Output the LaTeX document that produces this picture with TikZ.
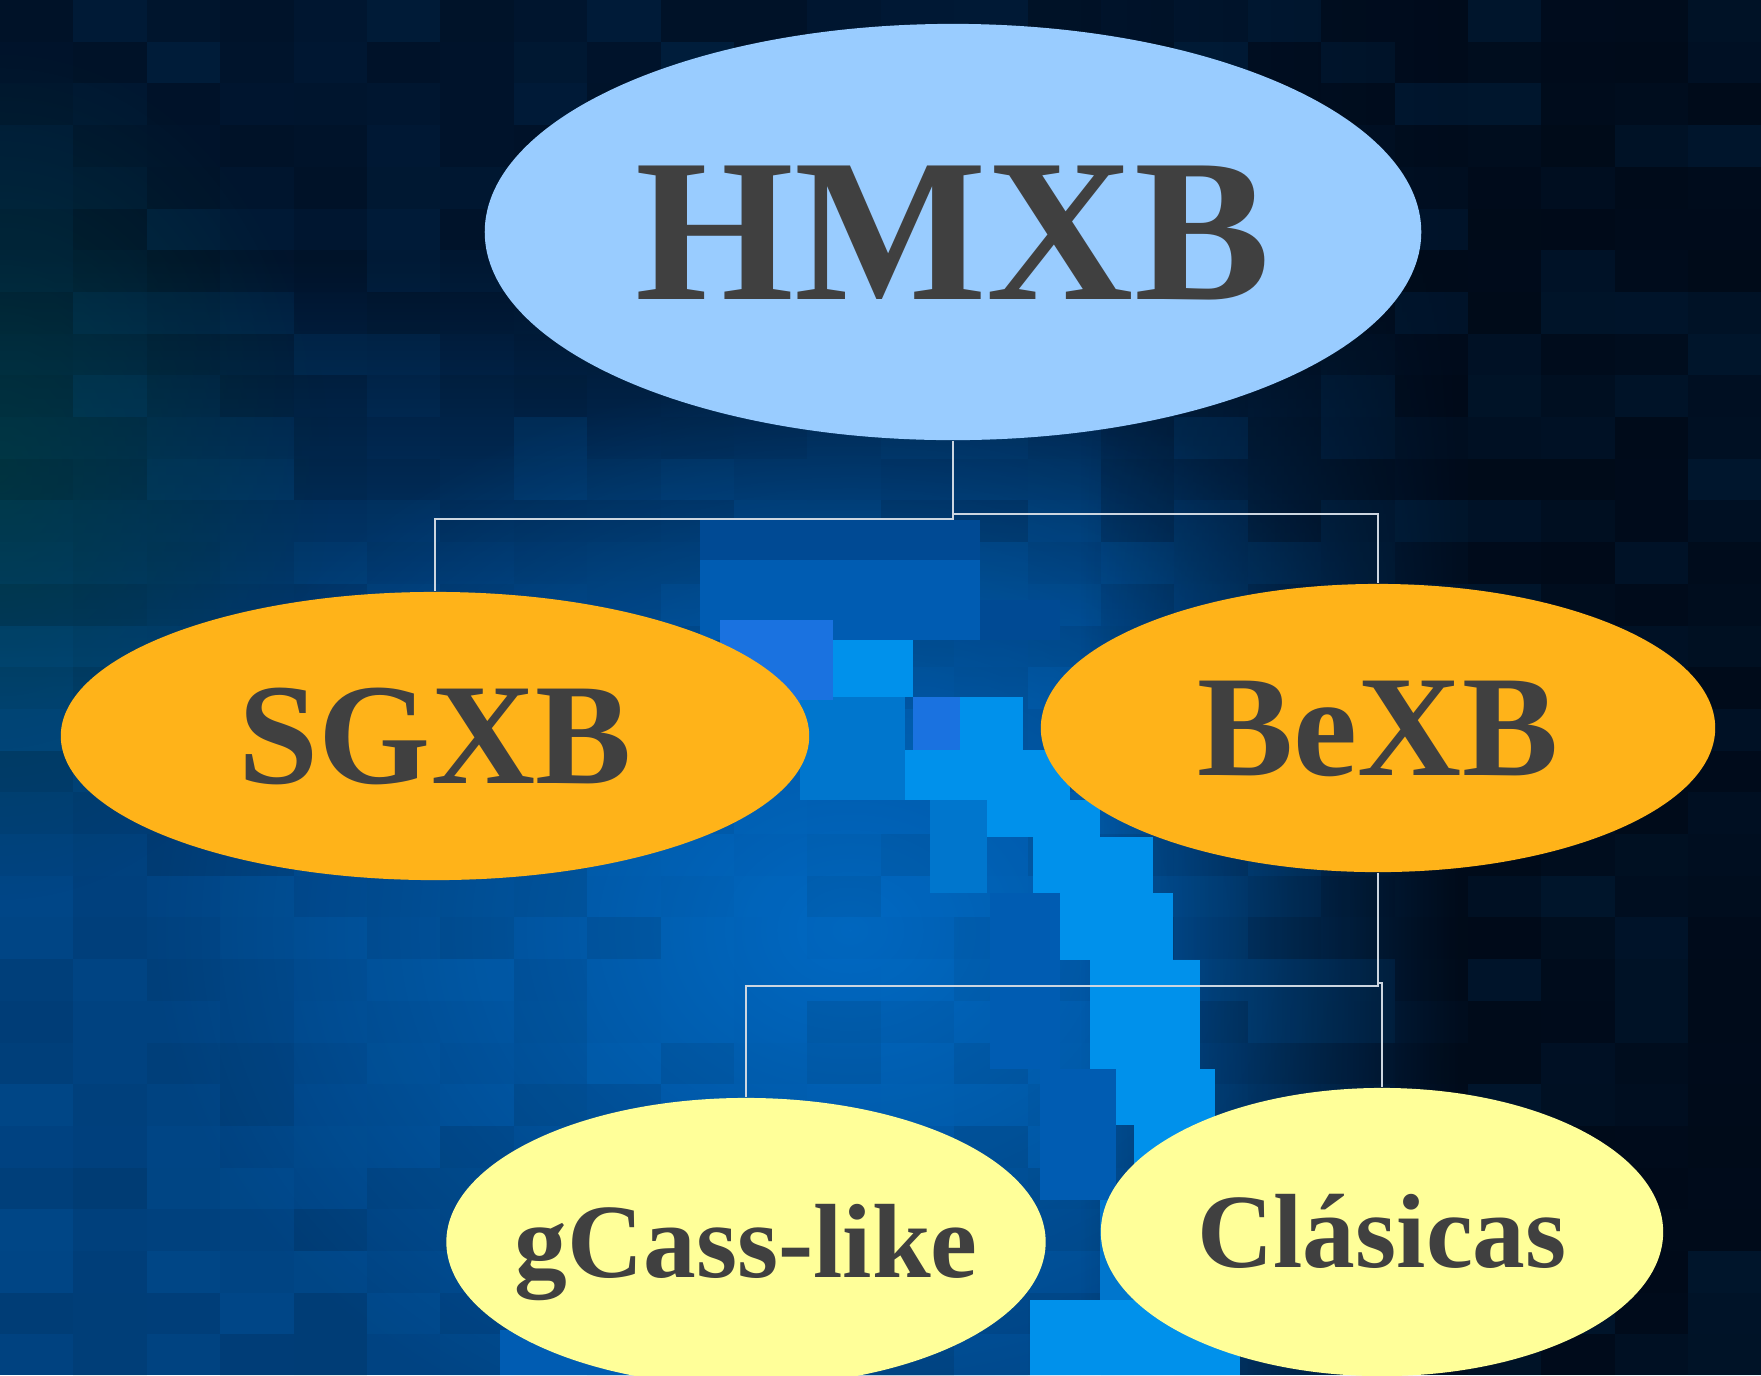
\documentclass[tikz,border=0pt]{standalone}
\usepackage{fontspec}
\setmainfont{Liberation Serif}
\usepackage{tikz}
\usetikzlibrary{shapes.geometric,positioning,fadings}

\definecolor{bgtop}{RGB}{1,20,44}
\definecolor{bglow}{RGB}{0,66,128}
\definecolor{bgdeep}{RGB}{0,12,28}
\definecolor{tealtint}{RGB}{0,62,64}
\definecolor{glowblue}{RGB}{0,105,195}
\definecolor{duskblue}{RGB}{0,74,148}
\definecolor{dimblue}{RGB}{0,92,178}
\definecolor{sideblue}{RGB}{0,118,205}
\definecolor{midblue}{RGB}{26,114,224}
\definecolor{bandblue}{RGB}{0,145,235}
\definecolor{topblue}{RGB}{153,204,255}
\definecolor{midorange}{RGB}{255,179,25}
\definecolor{lowyellow}{RGB}{255,255,153}
\definecolor{txtgray}{RGB}{64,64,64}
\definecolor{linkgray}{RGB}{205,214,224}

\tikzfading[name=fade to left, left color=transparent!100, right color=transparent!0]
\tikzfading[name=glow fade, inner color=transparent!0, outer color=transparent!100]

\tikzset{
  % ellipse size is fixed by minimum width/height only
  bubble/.style={ellipse, draw=none, inner ysep=0pt, inner xsep=-2cm, text=txtgray, text depth=0pt},
  top bubble/.style={bubble, fill=topblue, minimum width=9.36cm, minimum height=4.16cm,
    font=\fontsize{58}{60}\selectfont\bfseries, text height=38.4pt},
  mid bubble/.style={bubble, fill=midorange, minimum height=2.88cm,
    font=\fontsize{41}{44}\selectfont\bfseries, text height=27.1pt},
  low bubble/.style={bubble, fill=lowyellow, minimum height=2.88cm,
    font=\fontsize{30}{33}\selectfont\bfseries, text height=19.9pt},
  link/.style={draw=linkgray, line width=0.6pt},
}

\begin{document}
\begin{tikzpicture}[x=0.01cm,y=-0.01cm]
\useasboundingbox (0,0) rectangle (1761,1375);
% background
\fill[bglow] (0,0) rectangle (1761,1375);
\fill[bgtop] (0,0) rectangle (1761,260);
\shade[top color=bgtop,bottom color=bglow] (0,259) rectangle (1761,700);
\fill[tealtint,opacity=0.7,path fading=glow fade] (0,470) ellipse (330 and 430);
\fill[glowblue,path fading=glow fade] (850,930) ellipse (700 and 560);
\fill[bgdeep,path fading=fade to left] (1080,0) rectangle (1460,1375);
\fill[bgdeep] (1459,0) rectangle (1761,1375);
% mosaic grain
\pgfmathsetseed{7}
\foreach \i in {0,...,23}
  \foreach \j in {0,...,32}{
    \pgfmathsetmacro{\grainop}{0.1*rnd}
    \pgfmathtruncatemacro{\pick}{2*rnd}
    \ifnum\pick=0 \def\graincol{black}\else\def\graincol{sideblue}\fi
    \fill[\graincol,opacity=\grainop] (73.4*\i,41.7*\j) rectangle ++(73.4,41.7);
  }
% blocky bright streak
\foreach \ya/\yb/\xa/\xb in {520/560/700/980,600/640/980/1060}
  \fill[duskblue] (\xa,\ya) rectangle (\xb,\yb);
\foreach \ya/\yb/\xa/\xb in {560/640/700/980,893/1069/990/1060,1069/1200/1040/1116,1330/1375/500/700}
  \fill[dimblue] (\xa,\ya) rectangle (\xb,\yb);
\foreach \ya/\yb/\xa/\xb in {697/800/800/905,800/893/930/987,1200/1300/1100/1154}
  \fill[sideblue] (\xa,\ya) rectangle (\xb,\yb);
\foreach \ya/\yb/\xa/\xb in {620/700/720/833,640/760/720/800,697/750/913/960}
  \fill[midblue] (\xa,\ya) rectangle (\xb,\yb);
\foreach \ya/\yb/\xa/\xb in {640/697/833/913,697/750/960/1023,750/800/905/1070,
    800/837/987/1100,837/893/1033/1153,893/960/1060/1173,960/1069/1090/1200,
    1069/1125/1116/1215,1125/1202/1134/1215,1202/1300/1154/1215,1300/1375/1030/1240}
  \fill[bandblue] (\xa,\ya) rectangle (\xb,\yb);

% nodes
\node[top bubble] (hmxb) at (953,232) {HMXB};
\node[mid bubble, minimum width=7.48cm] (sgxb) at (435,736) {SGXB};
\node[mid bubble, minimum width=6.74cm] (bexb) at (1378,728) {BeXB};
\node[low bubble, minimum width=5.99cm] (gcass) at (746,1242) {gCass-like};
\node[low bubble, minimum width=5.62cm] (clasicas) at (1382,1232) {Clásicas};

% connectors
\draw[link] (hmxb.south) -- ++(0,78) -| (sgxb.north);
\draw[link] (hmxb.south) -- ++(0,73) -| (bexb.north);
\draw[link] (bexb.south) -- ++(0,113) -| (gcass.north);
\draw[link] (bexb.south) -- ++(0,110) -| (clasicas.north);
\end{tikzpicture}
\end{document}
